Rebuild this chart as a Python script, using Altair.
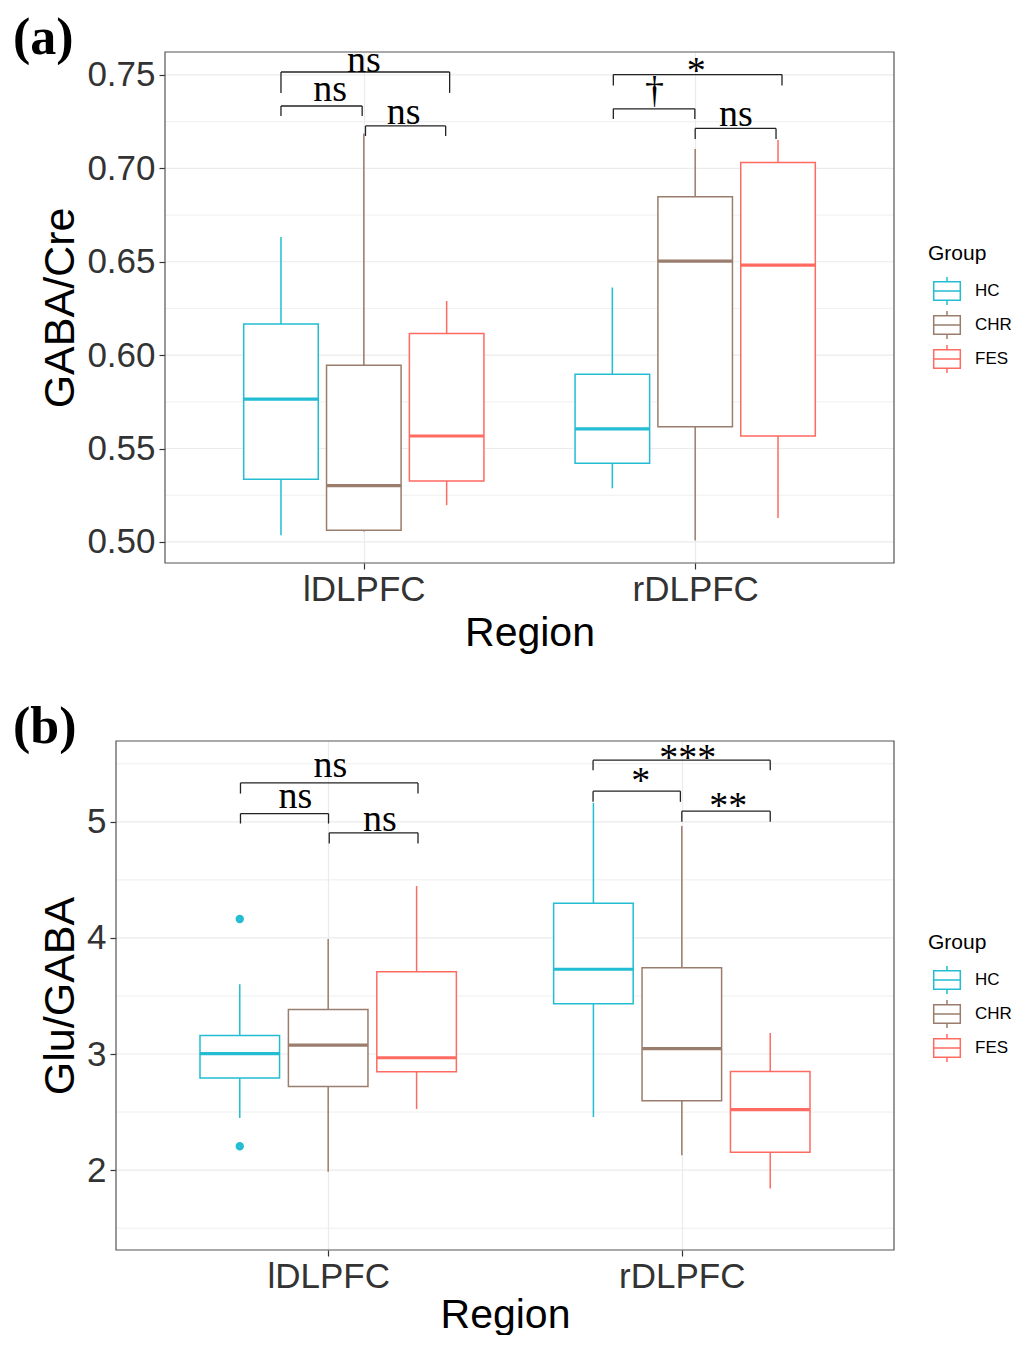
import altair as alt
import pandas as pd

regions = ["lDLPFC", "rDLPFC"]
groups = ["HC", "CHR", "FES"]
group_colors = ["#22BDD2", "#9A7D6C", "#FF6A61"]

# ---------- (a) GABA/Cre : order lDLPFC HC, CHR, FES, rDLPFC HC, CHR, FES
gaba_lower = [0.5035, 0.5056, 0.5197, 0.5287, 0.5008, 0.5128]
gaba_q1 = [0.5335, 0.5063, 0.5326, 0.5421, 0.5617, 0.5567]
gaba_median = [0.5764, 0.5301, 0.5567, 0.5605, 0.6503, 0.6482]
gaba_q3 = [0.6166, 0.5946, 0.6116, 0.5898, 0.6848, 0.7032]
gaba_upper = [0.6632, 0.7186, 0.6290, 0.6362, 0.7103, 0.7152]
gaba_ticks = [0.50, 0.55, 0.60, 0.65, 0.70, 0.75]
gaba_domain = [0.4887, 0.7623]
gaba_out_group = []
gaba_out_region = []
gaba_out_value = []

gaba_br_left = [0.75, 0.75, 1.005, 1.753, 1.753, 2.0]
gaba_br_right = [1.259, 0.995, 1.247, 2.262, 1.999, 2.244]
gaba_br_top = [0.7516, 0.7334, 0.7227, 0.7502, 0.7319, 0.7214]
gaba_br_tip = [0.7404, 0.7280, 0.7173, 0.7443, 0.7264, 0.7157]
gaba_sig = ["ns", "ns", "ns", "*", "\u2020", "ns"]
gaba_sig_x = [1.0, 0.898, 1.12, 2.003, 1.877, 2.123]
gaba_sig_y = [0.7518, 0.7362, 0.7237, 0.7457, 0.7351, 0.7227]

# ---------- (b) Glu/GABA
glu_lower = [2.449, 1.985, 2.526, 2.457, 2.128, 1.842]
glu_q1 = [2.793, 2.721, 2.848, 3.432, 2.598, 2.154]
glu_median = [3.003, 3.077, 2.968, 3.730, 3.046, 2.521]
glu_q3 = [3.160, 3.383, 3.708, 4.298, 3.742, 2.850]
glu_upper = [3.601, 3.991, 4.447, 5.163, 4.963, 3.180]
glu_ticks = [2, 3, 4, 5]
glu_domain = [1.312, 5.696]
glu_out_group = ["HC", "HC"]
glu_out_region = ["lDLPFC", "lDLPFC"]
glu_out_value = [4.163, 2.206]

glu_br_left = [0.752, 0.752, 1.003, 1.749, 1.749, 2.0]
glu_br_right = [1.254, 1.001, 1.254, 2.250, 1.996, 2.250]
glu_br_top = [5.335, 5.071, 4.905, 5.531, 5.264, 5.092]
glu_br_tip = [5.243, 4.985, 4.813, 5.445, 5.172, 5.0]
glu_sig = ["ns", "ns", "ns", "***", "*", "**"]
glu_sig_x = [1.006, 0.907, 1.146, 2.017, 1.884, 2.131]
glu_sig_y = [5.387, 5.123, 4.923, 5.447, 5.249, 5.034]

X_DOMAIN = [0.4, 2.6]
DODGE = 0.25
BOX_HALF = 0.1125
SANS = "Liberation Sans"
SERIF = "Liberation Serif"
GRID = "#EBEBEB"
LEGEND_SYMBOL = "M-0.95,-0.66H0.95V0.66H-0.95Z M-0.95,0H0.95 M0,-0.66V-1 M0,0.66V1"


def xpos(region, group):
    return regions.index(region) + 1 + (groups.index(group) - 1) * DODGE


def box_table(lower, q1, med, q3, upper):
    rows = []
    k = 0
    for reg in regions:
        for grp in groups:
            xc = xpos(reg, grp)
            rows.append(dict(region=reg, group=grp, xc=xc, x0=xc - BOX_HALF, x1=xc + BOX_HALF,
                             lower=lower[k], q1=q1[k], median=med[k], q3=q3[k], upper=upper[k]))
            k += 1
    return pd.DataFrame(rows)


def bracket_table(left, right, top, tip):
    rows = []
    for l, r, t, b in zip(left, right, top, tip):
        rows.append(dict(xa=l, xb=r, ya=t, yb=t))
        rows.append(dict(xa=l, xb=l, ya=b, yb=t))
        rows.append(dict(xa=r, xb=r, ya=b, yb=t))
    return pd.DataFrame(rows)


def panel(letter, ytitle, fmt, stats, ticks, domain, outliers, brackets, sig,
          plot_off, width, height, xtitle_pad):
    box = box_table(*stats)
    step = ticks[1] - ticks[0]
    minor = [t + step / 2 for t in [ticks[0] - step] + ticks
             if domain[0] < t + step / 2 < domain[1]]
    grid_df = pd.DataFrame({"v": list(ticks) + minor,
                            "w": [1.2] * len(ticks) + [0.8] * len(minor)})
    grid_df["xa"] = X_DOMAIN[0]
    grid_df["xb"] = X_DOMAIN[1]
    frame_df = pd.DataFrame({"xa": [X_DOMAIN[0]], "xb": [X_DOMAIN[1]],
                             "ya": [domain[0]], "yb": [domain[1]]})
    out_df = pd.DataFrame({"group": outliers[0], "region": outliers[1], "value": outliers[2]})
    out_df["xc"] = [xpos(r, g) for r, g in zip(out_df["region"], out_df["group"])] if len(out_df) else []
    br_df = bracket_table(*brackets)
    sig_df = pd.DataFrame({"label": sig[0], "x": sig[1], "y": sig[2]})

    xscale = alt.Scale(domain=X_DOMAIN, range=[plot_off, width], nice=False, zero=False)
    yscale = alt.Scale(domain=domain, nice=False, zero=False)
    label_expr = "[" + ",".join("'%s'" % r for r in regions) + "][round(datum.value) - 1]"
    xaxis = alt.Axis(values=[1, 2], labelExpr=label_expr, title="Region", grid=True,
                     gridColor=GRID, gridWidth=1.2, domain=False, ticks=True, tickSize=6,
                     tickColor="#333333", tickWidth=1.2, labelFont=SANS, labelFontSize=35,
                     labelColor="#333333", labelPadding=3, titleFont=SANS, titleFontSize=41,
                     titleFontWeight="normal", titleColor="black", titlePadding=xtitle_pad,
                     titleX=plot_off + (width - plot_off) / 2, titleAlign="center",
                     labelFlush=False)
    yaxis = alt.Axis(values=ticks, format=fmt, title=ytitle, grid=False, domain=False,
                     ticks=True, tickSize=6, tickColor="#333333", tickWidth=1.2,
                     labelFont=SANS, labelFontSize=35, labelColor="#333333", labelPadding=4,
                     titleFont=SANS, titleFontSize=43, titleFontWeight="normal",
                     titleColor="black", titlePadding=4, labelOverlap=False,
                     offset=-plot_off)

    def X(f):
        return alt.X(f, type="quantitative", scale=xscale, axis=xaxis)

    def Y(f):
        return alt.Y(f, type="quantitative", scale=yscale, axis=yaxis)

    legend = alt.Legend(title="Group", orient="none", legendX=812, legendY=191,
                        symbolType=LEGEND_SYMBOL, symbolSize=784, symbolStrokeWidth=1.5,
                        symbolFillColor="white", titleFont=SANS, titleFontSize=21,
                        titleFontWeight="normal", titleColor="black", labelFont=SANS,
                        labelFontSize=17, labelColor="black", rowPadding=0, titlePadding=12,
                        symbolOffset=4, labelOffset=13, padding=0)
    stroke = alt.Stroke("group:N", scale=alt.Scale(domain=groups, range=group_colors),
                        legend=legend)

    grid = alt.Chart(grid_df).mark_rule(color=GRID).encode(
        x=X("xa"), x2=alt.X2("xb"), y=Y("v"), strokeWidth=alt.StrokeWidth("w:Q", scale=None))
    frame = alt.Chart(frame_df).mark_rect(fillOpacity=0, stroke="#555555", strokeWidth=1.2).encode(
        x=X("xa"), x2=alt.X2("xb"), y=Y("ya"), y2=alt.Y2("yb"))
    whisk = alt.Chart(box).mark_rule(strokeWidth=1.5).encode(
        x=X("xc"), y=Y("lower"), y2=alt.Y2("upper"), stroke=stroke)
    rect = alt.Chart(box).mark_rect(fill="white", strokeWidth=1.5).encode(
        x=X("x0"), x2=alt.X2("x1"), y=Y("q1"), y2=alt.Y2("q3"), stroke=stroke)
    med = alt.Chart(box).mark_rule(strokeWidth=3.2).encode(
        x=X("x0"), x2=alt.X2("x1"), y=Y("median"), stroke=stroke)
    layers = [grid, frame, whisk, rect, med]
    if len(out_df):
        pts = alt.Chart(out_df).mark_point(shape="circle", filled=False, size=15,
                                           strokeWidth=4.5, opacity=1).encode(
            x=X("xc"), y=Y("value"), stroke=stroke)
        layers.append(pts)
    br = alt.Chart(br_df).mark_rule(color="#222222", strokeWidth=1.3).encode(
        x=X("xa"), x2=alt.X2("xb"), y=Y("ya"), y2=alt.Y2("yb"))
    txt = alt.Chart(sig_df).mark_text(font=SERIF, fontSize=38, align="center",
                                      baseline="alphabetic", color="black").encode(
        x=X("x"), y=Y("y"), text="label:N")
    tag = alt.Chart(pd.DataFrame({"tag": [letter]})).mark_text(
        font=SERIF, fontSize=52, fontWeight="bold", align="left", baseline="alphabetic",
        color="black").encode(x=alt.value(-103), y=alt.value(2), text="tag:N")
    layers += [br, txt, tag]
    return alt.layer(*layers).properties(width=width, height=height)


pa = panel("(a)", "GABA/Cre", ".2f",
           (gaba_lower, gaba_q1, gaba_median, gaba_q3, gaba_upper),
           gaba_ticks, gaba_domain, (gaba_out_group, gaba_out_region, gaba_out_value),
           (gaba_br_left, gaba_br_right, gaba_br_top, gaba_br_tip),
           (gaba_sig, gaba_sig_x, gaba_sig_y), 49, 778, 511, 6)
pb = panel("(b)", "Glu/GABA", "d",
           (glu_lower, glu_q1, glu_median, glu_q3, glu_upper),
           glu_ticks, glu_domain, (glu_out_group, glu_out_region, glu_out_value),
           (glu_br_left, glu_br_right, glu_br_top, glu_br_tip),
           (glu_sig, glu_sig_x, glu_sig_y), 0, 778, 509, 1)

chart = alt.vconcat(pa, pb, spacing=48).resolve_scale(
    stroke="independent", x="independent", y="independent"
).resolve_legend(stroke="independent").properties(
    padding={"left": 5, "top": 4, "right": 0, "bottom": 0}).configure_view(strokeWidth=0)

chart.save("out.html", embed_options={"renderer": "svg", "actions": False})
